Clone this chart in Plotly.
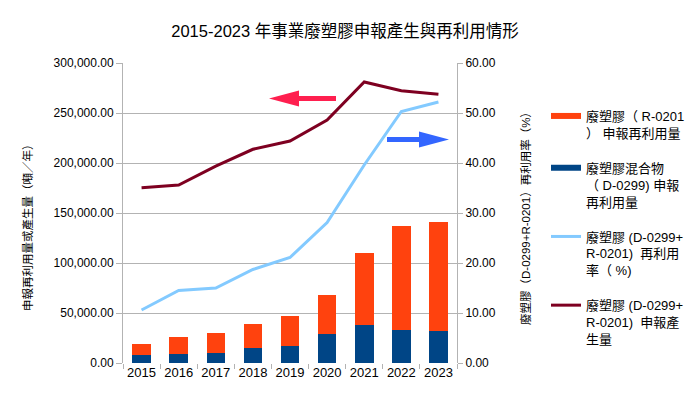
import plotly.graph_objects as go

# ---- data ----
years = ["2015", "2016", "2017", "2018", "2019", "2020", "2021", "2022", "2023"]
r0201_reuse = [11000, 17000, 19400, 24300, 29700, 39300, 72000, 104000, 109000]   # 廢塑膠（R-0201）申報再利用量
d0299_reuse = [7700, 9300, 10300, 15000, 17300, 29000, 38300, 33300, 31700]       # 廢塑膠混合物（D-0299）申報再利用量
reuse_rate = [10.6, 14.5, 15.0, 18.7, 21.1, 28.1, 39.6, 50.3, 52.2]                # 再利用率（%）
generation = [175300, 178000, 196800, 213700, 222000, 243000, 281000, 272300, 268700]  # 申報產生量

names = [
    "廢塑膠（ R-0201<br>） 申報再利用量",
    "廢塑膠混合物<br>（ D-0299) 申報<br>再利用量",
    "廢塑膠 (D-0299+<br>R-0201)  再利用<br>率（ %)",
    "廢塑膠 (D-0299+<br>R-0201)  申報產<br>生量",
]

C_ORANGE = "#ff420e"
C_BLUE = "#004586"
C_LIGHT = "#83caff"
C_DARK = "#7e0021"
FONT = "Liberation Sans, Noto Sans CJK TC, sans-serif"

# page body has an 8px margin -> figure drawn 8px right/down
O = 8
SW, SH = 698, 395
W, H = SW - O, SH - O
SL, SR, ST, SB = 123, 457, 63, 363   # plot area in screen px
L, T = SL - O, ST - O
R, B = W - (SR - O), H - (SB - O)


def to_paper(x, y):
    return (x - SL) / (SR - SL), (SB - y) / (SB - ST)


def arrow_path(tail_x, tip_x, yc, head_len, head_half, shaft_half):
    d = 1 if tip_x > tail_x else -1
    base = tip_x - d * head_len
    pts = [(tail_x, yc - shaft_half), (base, yc - shaft_half), (base, yc - head_half),
           (tip_x, yc), (base, yc + head_half), (base, yc + shaft_half), (tail_x, yc + shaft_half)]
    s = ""
    for i, (px, py) in enumerate(pts):
        a, b = to_paper(px, py)
        s += ("M" if i == 0 else "L") + f"{a:.5f},{b:.5f} "
    return s + "Z"


fig = go.Figure()

# bars (blue bottom, orange on top)
fig.add_trace(go.Bar(x=years, y=d0299_reuse, marker=dict(color=C_BLUE, line=dict(width=0)),
                     showlegend=False, yaxis="y"))
fig.add_trace(go.Bar(x=years, y=r0201_reuse, marker=dict(color=C_ORANGE, line=dict(width=0)),
                     showlegend=False, yaxis="y"))
# lines
fig.add_trace(go.Scatter(x=years, y=reuse_rate, mode="lines", line=dict(color=C_LIGHT, width=3),
                         showlegend=False, yaxis="y2"))
fig.add_trace(go.Scatter(x=years, y=generation, mode="lines", line=dict(color=C_DARK, width=3),
                         showlegend=False, yaxis="y"))

# legend entries
leg_cols = [C_ORANGE, C_BLUE, C_LIGHT, C_DARK]
leg_w = [6, 6, 3, 3]
for i, (n, c, w) in enumerate(zip(names, leg_cols, leg_w)):
    fig.add_trace(go.Scatter(x=[None], y=[None], mode="lines", name=n, line=dict(color=c, width=w),
                             legendgroup=f"g{i}", showlegend=True))

grid = "#b3b3b3"
lx, ly = to_paper(27, 225)
rx, ry = to_paper(525, 216)
fig.update_layout(
    width=W, height=H,
    margin=dict(l=L, r=R, t=T, b=B, autoexpand=False),
    paper_bgcolor="white", plot_bgcolor="white",
    font=dict(family=FONT, size=12, color="#000000"),
    barmode="stack", bargap=0.5,
    title=dict(text="2015-2023 年事業廢塑膠申報產生與再利用情形", x=(345 - O) / W, xanchor="center",
               xref="container", y=1 - (33 - O - 2) / H, yanchor="middle", yref="container",
               font=dict(family=FONT, size=16.5, color="#000000")),
    xaxis=dict(type="category", showgrid=False, ticks="outside", tickson="boundaries",
               ticklen=5, tickcolor=grid, showline=False, tickfont=dict(size=13),
               tickangle=0, automargin=False, range=[-0.5, 8.5]),
    yaxis=dict(range=[0, 300000], dtick=50000, tickformat=",.2f", showgrid=True, gridcolor=grid,
               gridwidth=1, showline=True, linecolor=grid, ticks="outside", ticklen=6, tickcolor=grid,
               zeroline=False, tickfont=dict(size=12), automargin=False),
    yaxis2=dict(range=[0, 60], dtick=10, tickformat=".2f", overlaying="y", side="right",
                showgrid=False, showline=True, linecolor=grid, ticks="outside", ticklen=5,
                tickcolor=grid, zeroline=False, tickfont=dict(size=12), automargin=False),
    legend=dict(xref="container", yref="container", x=(586 - 40 - O) / W, y=1 - (101 - O) / H,
                xanchor="left", yanchor="top", valign="top", tracegroupgap=15,
                font=dict(size=13, family=FONT), bgcolor="rgba(0,0,0,0)", itemwidth=30,
                maxheight=400),
    shapes=[
        dict(type="path", xref="paper", yref="paper", path=arrow_path(336, 269, 98.5, 30, 8, 2.5),
             fillcolor="#ff1f4f", line=dict(width=0)),
        dict(type="path", xref="paper", yref="paper", path=arrow_path(387, 449, 139.5, 30, 8, 2.5),
             fillcolor="#3366ff", line=dict(width=0)),
    ],
    annotations=[
        dict(text="申報再利用量或產生量（噸／年）", xref="paper", yref="paper",
             x=lx, y=ly, textangle=-90, showarrow=False,
             font=dict(size=11.5, family=FONT), xanchor="center", yanchor="middle"),
        dict(text="廢塑膠（D-0299+R-0201）再利用率（%）", xref="paper", yref="paper",
             x=rx, y=ry, textangle=-90, showarrow=False,
             font=dict(size=11.5, family=FONT), xanchor="center", yanchor="middle"),
    ],
)

fig.write_html("out.html")
